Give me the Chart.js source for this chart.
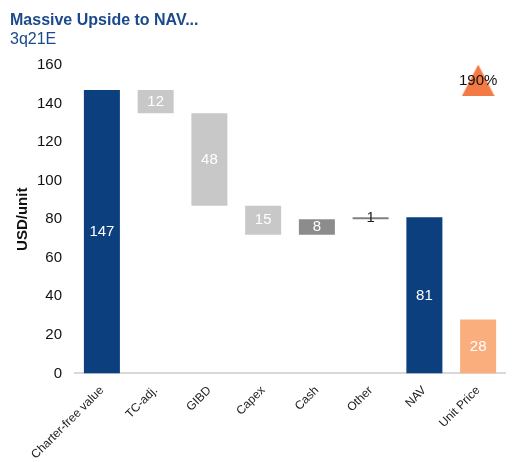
<!DOCTYPE html>
<html>
<head>
<meta charset="utf-8">
<script src="https://cdn.jsdelivr.net/npm/chart.js@4.4.1/dist/chart.umd.min.js"></script>
<style>
  html, body { margin: 0; padding: 0; background: #fff; }
  #wrap { position: relative; width: 522px; height: 462px; }
  #title { position: absolute; left: 10px; top: 11px; font: bold 16px "Liberation Sans", Arial, sans-serif; color: #1B4A8A; white-space: nowrap; }
  #sub { position: absolute; left: 10px; top: 30px; font: 16px "Liberation Sans", Arial, sans-serif; color: #1B4A8A; }
  canvas { position: absolute; left: 0; top: 0; }
</style>
</head>
<body>
<div id="wrap">
  <canvas id="c" width="522" height="462"></canvas>
  <div id="title">Massive Upside to NAV...</div>
  <div id="sub">3q21E</div>
</div>
<script>
const categories = ['Charter-free value', 'TC-adj.', 'GIBD', 'Capex', 'Cash', 'Other', 'NAV', 'Unit Price'];
const barBases   = [0, 135, 87, 72, 72, 80, 0, 0];
const barValues  = [147, 12, 48, 15, 8, 1, 81, 28];
const barColors  = ['#0B3F7E', '#C8C8C8', '#C8C8C8', '#C8C8C8', '#8C8C8C', '#808080', '#0B3F7E', '#FBAE7D'];
const labelColors = ['#fff', '#fff', '#fff', '#fff', '#fff', '#222', '#fff', '#fff'];
const upsideLabel = '190%';
const upsideMarker = [null, null, null, null, null, null, null, 152];
const yTicks = { min: 0, max: 160, step: 20 };

const ranges = barBases.map((b, i) => [b, b + barValues[i]]);

// triangle marker image (style only)
const tri = document.createElement('canvas');
tri.width = 33; tri.height = 32;
(function () {
  const t = tri.getContext('2d');
  t.fillStyle = '#F47A45';
  t.beginPath();
  t.moveTo(16.5, 0); t.lineTo(33, 32); t.lineTo(0, 32); t.closePath();
  t.fill();
})();

const FONT = '"Liberation Sans", Arial, sans-serif';

const labelPlugin = {
  id: 'barLabels',
  afterDatasetsDraw(chart) {
    const ctx = chart.ctx;
    const meta = chart.getDatasetMeta(0);
    ctx.save();
    ctx.font = '15px ' + FONT;
    ctx.textAlign = 'center';
    ctx.textBaseline = 'middle';
    meta.data.forEach((el, i) => {
      ctx.fillStyle = labelColors[i];
      ctx.fillText(String(barValues[i]), el.x, (el.y + el.base) / 2);
    });
    const m = chart.getDatasetMeta(1);
    const p = m.data[7];
    ctx.fillStyle = '#111';
    ctx.fillText(upsideLabel, p.x, p.y);
    ctx.restore();
  }
};

new Chart(document.getElementById('c'), {
  data: {
    labels: categories,
    datasets: [
      {
        type: 'bar',
        data: ranges,
        backgroundColor: barColors,
        borderSkipped: false,
        categoryPercentage: 1,
        barPercentage: 0.67,
        order: 2
      },
      {
        type: 'line',
        data: upsideMarker,
        showLine: false,
        pointStyle: tri,
        pointRadius: 16,
        order: 1
      }
    ]
  },
  options: {
    responsive: false,
    animation: false,
    layout: { padding: { top: 65, right: 5, left: 14, bottom: -2 } },
    plugins: { legend: { display: false }, tooltip: { enabled: false } },
    scales: {
      x: {
        grid: { display: false },
        border: { color: '#D9D9D9', width: 2 },
        ticks: {
          color: '#222',
          padding: 2,
          font: { size: 12, family: FONT },
          minRotation: 45, maxRotation: 45, autoSkip: false
        }
      },
      y: {
        min: yTicks.min, max: yTicks.max,
        grid: { display: false },
        border: { display: false },
        ticks: {
          stepSize: yTicks.step,
          color: '#111',
          padding: 5,
          font: { size: 15, family: FONT }
        },
        title: {
          display: true, text: 'USD/unit', color: '#111',
          padding: { top: 0, bottom: 0 },
          font: { size: 15, weight: 'bold', family: FONT }
        }
      }
    }
  },
  plugins: [labelPlugin]
});
</script>
</body>
</html>
